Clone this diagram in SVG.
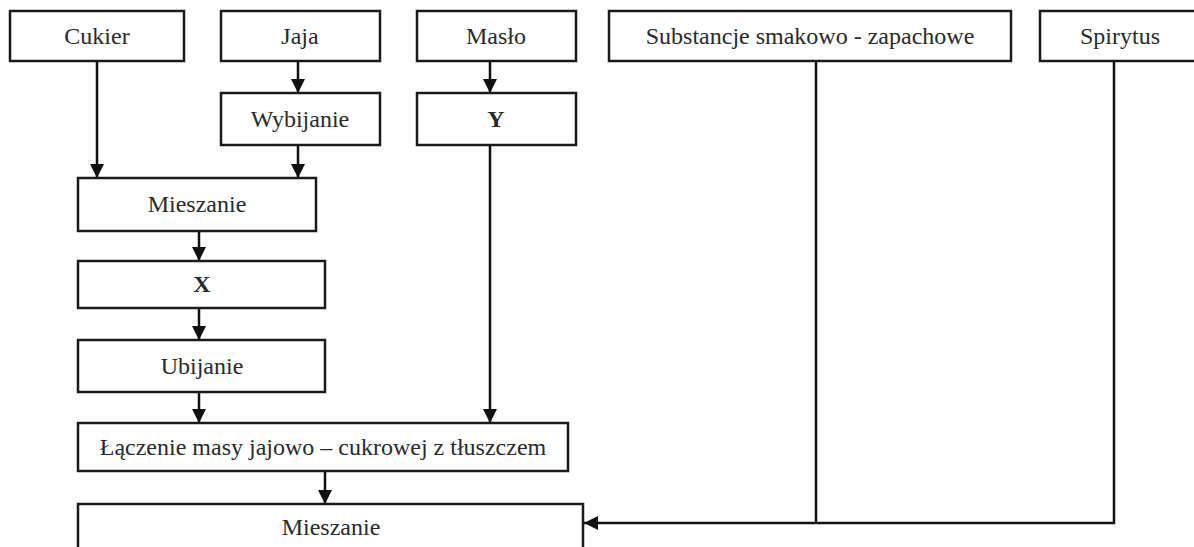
<svg xmlns="http://www.w3.org/2000/svg" width="1194" height="547" viewBox="0 0 1194 547">
<style>
.box{fill:#fff;stroke:#1a1a1a;stroke-width:2.5}
.t{font-family:"Liberation Serif","Times New Roman",serif;font-size:24px;fill:#2a2a2a;text-anchor:middle}
.b{font-weight:bold}
.c{fill:none;stroke:#111;stroke-width:2.5}
</style>
<defs>
<marker id="ah" viewBox="0 0 14 14" refX="14" refY="7" markerWidth="14" markerHeight="14" orient="auto" markerUnits="userSpaceOnUse">
<path d="M0,0 L14,7 L0,14 z" fill="#111"/>
</marker>
</defs>
<rect width="1194" height="547" fill="#fff"/>
<g id="connectors">
<line class="c" x1="97" y1="61" x2="97" y2="178" marker-end="url(#ah)"/>
<line class="c" x1="298" y1="61" x2="298" y2="93" marker-end="url(#ah)"/>
<line class="c" x1="298" y1="145" x2="298" y2="178" marker-end="url(#ah)"/>
<line class="c" x1="490" y1="61" x2="490" y2="93" marker-end="url(#ah)"/>
<line class="c" x1="490" y1="145" x2="490" y2="423" marker-end="url(#ah)"/>
<line class="c" x1="199" y1="231" x2="199" y2="261" marker-end="url(#ah)"/>
<line class="c" x1="199" y1="308" x2="199" y2="340" marker-end="url(#ah)"/>
<line class="c" x1="199" y1="392" x2="199" y2="423" marker-end="url(#ah)"/>
<line class="c" x1="325" y1="471" x2="325" y2="504" marker-end="url(#ah)"/>
<line class="c" x1="816" y1="61" x2="816" y2="523"/>
<polyline class="c" points="1114,61 1114,523 584,523" marker-end="url(#ah)"/>
</g>
<g id="cukier"><rect class="box" x="10" y="11" width="174" height="50"/><text class="t" x="97" y="44">Cukier</text></g>
<g id="jaja"><rect class="box" x="221" y="11" width="159" height="50"/><text class="t" x="300" y="44">Jaja</text></g>
<g id="maslo"><rect class="box" x="417" y="11" width="159" height="50"/><text class="t" x="496" y="44">Masło</text></g>
<g id="substancje"><rect class="box" x="609" y="11" width="402" height="50"/><text class="t" x="810" y="44">Substancje smakowo - zapachowe</text></g>
<g id="spirytus"><rect class="box" x="1040" y="11" width="162" height="50"/><text class="t" x="1120" y="44">Spirytus</text></g>
<g id="wybijanie"><rect class="box" x="221" y="93" width="159" height="52"/><text class="t" x="300" y="127">Wybijanie</text></g>
<g id="y"><rect class="box" x="417" y="93" width="159" height="52"/><text class="t b" x="496" y="127">Y</text></g>
<g id="mieszanie1"><rect class="box" x="78" y="178" width="238" height="53"/><text class="t" x="197" y="212">Mieszanie</text></g>
<g id="x"><rect class="box" x="78" y="261" width="247" height="47"/><text class="t b" x="202" y="292">X</text></g>
<g id="ubijanie"><rect class="box" x="78" y="340" width="247" height="52"/><text class="t" x="202" y="374">Ubijanie</text></g>
<g id="laczenie"><rect class="box" x="78" y="423" width="490" height="48"/><text class="t" x="323" y="455">Łączenie masy jajowo – cukrowej z tłuszczem</text></g>
<g id="mieszanie2"><rect class="box" x="78" y="504" width="505" height="50"/><text class="t" x="331" y="535">Mieszanie</text></g>
</svg>
